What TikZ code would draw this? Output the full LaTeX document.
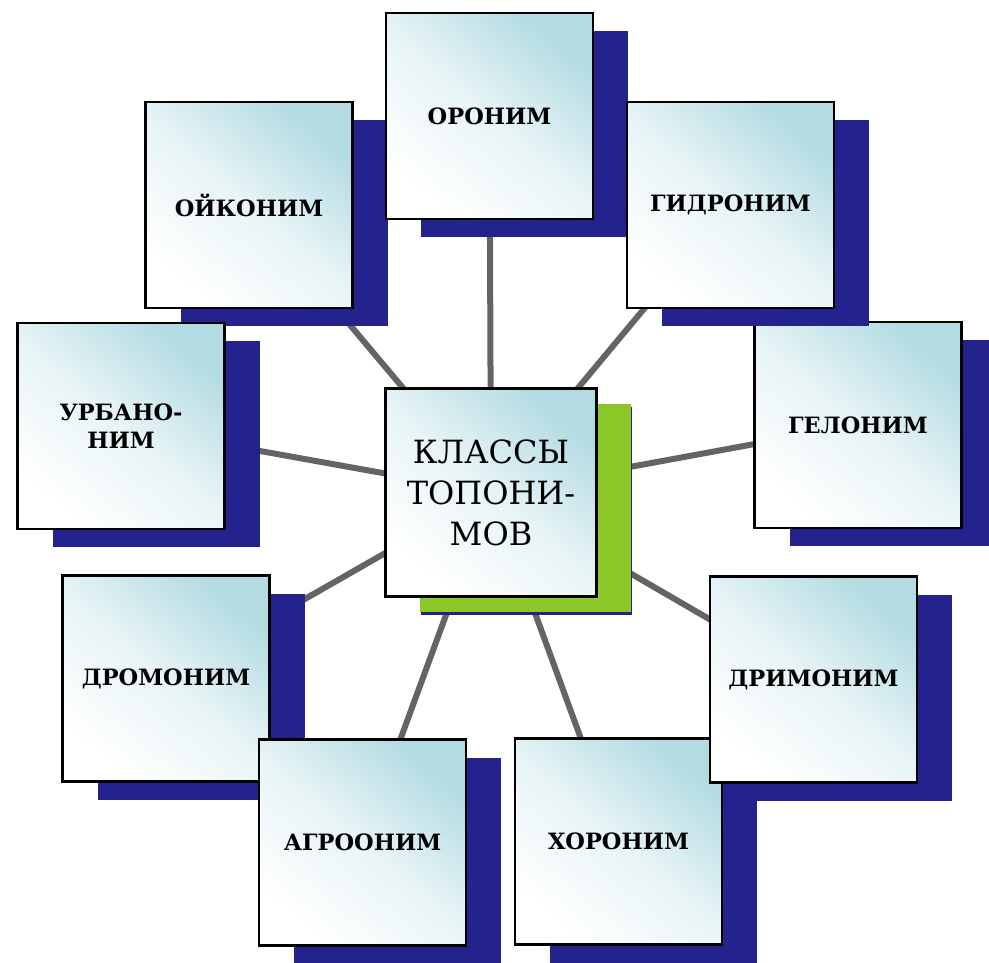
\documentclass[tikz,border=0pt]{standalone}
\usepackage{fontspec}
\setmainfont{DejaVu Serif}
\usetikzlibrary{shadows}
\pgfdeclarelayer{background}
\pgfsetlayers{background,main}
\definecolor{boxblue}{RGB}{178,219,226}
\definecolor{navyshadow}{RGB}{36,34,140}
\definecolor{limeshadow}{RGB}{140,200,40}
\definecolor{linkgray}{RGB}{100,100,100}
\tikzset{
  box/.style={draw=black, line width=2.5pt, minimum width=207pt, minimum height=206pt,
    inner sep=0pt, top color=boxblue, bottom color=white, middle color=boxblue!30,
    shading angle=-40, align=center,
    font=\bfseries\fontsize{22.5}{28}\selectfont,
    general shadow={fill=navyshadow, shadow xshift=35pt, shadow yshift=-18pt}},
  centerbox/.style={box, minimum width=211pt, minimum height=208pt,
    font=\fontsize{32}{41}\selectfont,
    general shadow={fill=limeshadow, shadow xshift=34pt, shadow yshift=-15pt}},
  link/.style={draw=linkgray, line width=6pt}
}
\begin{document}
\begin{tikzpicture}[x=1pt, y=-1pt]
\useasboundingbox (0,0) rectangle (989,963);
\node[box] (gel) at (858,425) {ГЕЛОНИМ};
\node[box] (oik) at (249,205) {ОЙКОНИМ};
\node[box] (oro) at (489.5,116) {ОРОНИМ};
\node[box] (gid) at (730.5,205) {ГИДРОНИМ};
\node[box] (urb) at (121,426) {УРБАНО-\\НИМ};
\node[box] (drom) at (166,678.5) {ДРОМОНИМ};
\node[box] (agr) at (362.5,842.5) {АГРООНИМ};
\node[box] (hor) at (618.5,841.5) {ХОРОНИМ};
\node[box] (drim) at (813.5,679.5) {ДРИМОНИМ};
\node[centerbox] (c) at (491,492.5) {КЛАССЫ\\ТОПОНИ-\\МОВ};
\begin{pgfonlayer}{background}
\fill[white] (0,0) rectangle (989,963);
\foreach \n in {gel,oik,oro,gid,urb,drom,agr,hor,drim}
  \draw[link] (c.center) -- (\n.center);
\end{pgfonlayer}
\end{tikzpicture}
\end{document}
